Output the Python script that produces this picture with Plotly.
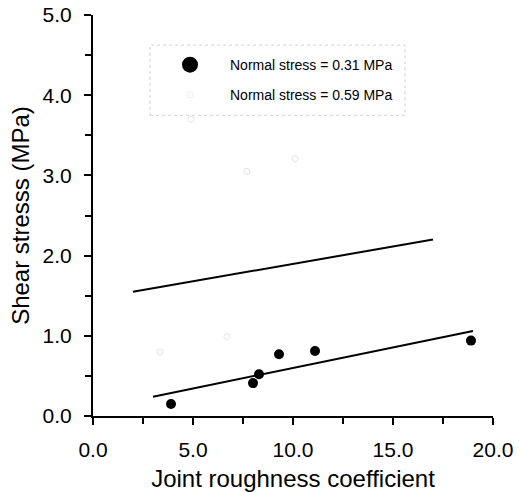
import plotly.graph_objects as go

# Normal stress = 0.31 MPa (filled markers)
jrc_031 = [3.9, 8.0, 8.3, 9.3, 11.1, 18.9]
tau_031 = [0.15, 0.41, 0.52, 0.77, 0.81, 0.94]
fit_031_x = [3.0, 19.0]
fit_031_y = [0.24, 1.06]

# Normal stress = 0.59 MPa (markers almost invisible in the scan)
jrc_059 = [3.35, 4.9, 6.7, 7.7, 10.1]
tau_059 = [0.80, 3.70, 0.99, 3.05, 3.21]
fit_059_x = [2.0, 17.0]
fit_059_y = [1.55, 2.20]

x_ticks = [0, 5, 10, 15, 20]
x_labels = ["0.0", "5.0", "10.0", "15.0", "20.0"]
y_ticks = [0, 1, 2, 3, 4, 5]
y_labels = ["0.0", "1.0", "2.0", "3.0", "4.0", "5.0"]

FONT = "Liberation Sans, Arial, sans-serif"

fig = go.Figure()

# data traces
fig.add_trace(go.Scatter(x=fit_031_x, y=fit_031_y, mode="lines",
                         line=dict(color="black", width=2), showlegend=False))
fig.add_trace(go.Scatter(x=fit_059_x, y=fit_059_y, mode="lines",
                         line=dict(color="black", width=2), showlegend=False))
fig.add_trace(go.Scatter(x=jrc_031, y=tau_031, mode="markers",
                         marker=dict(color="black", size=10), showlegend=False))
fig.add_trace(go.Scatter(x=jrc_059, y=tau_059, mode="markers",
                         marker=dict(symbol="circle-open", color="#e3e3e3", size=6,
                                     line=dict(width=1, color="#e3e3e3")),
                         showlegend=False))

# legend entries
fig.add_trace(go.Scatter(x=[None], y=[None], mode="markers",
                         marker=dict(color="black", size=17),
                         name="Normal stress = 0.31 MPa", legendgroup="a"))
fig.add_trace(go.Scatter(x=[None], y=[None], mode="markers",
                         marker=dict(symbol="circle-open", color="#ececec", size=6,
                                     line=dict(width=1, color="#ececec")),
                         name="Normal stress = 0.59 MPa", legendgroup="b"))

axis_common = dict(
    showgrid=False, zeroline=False, showline=True, linecolor="black", linewidth=2,
    ticks="outside", ticklen=7, tickwidth=2, tickcolor="black", automargin=False,
    tickfont=dict(family=FONT, size=21, color="black"),
    minor=dict(ticks="outside", ticklen=6, tickwidth=1.5, tickcolor="black"),
)

fig.update_xaxes(**axis_common, range=[0, 20], tickvals=x_ticks, ticktext=x_labels,
                 minor_dtick=2.5, minor_tick0=0, ticklabelstandoff=7,
                 title=dict(text="Joint roughness coefficient",
                            font=dict(family=FONT, size=24, color="black"), standoff=10))
fig.update_yaxes(**axis_common, range=[0, 5], tickvals=y_ticks, ticktext=y_labels,
                 minor_dtick=0.5, minor_tick0=0, ticklabelstandoff=8,
                 title=dict(text="Shear stresss (MPa)",
                            font=dict(family=FONT, size=24, color="black"), standoff=6))

fig.add_shape(type="rect", xref="paper", yref="paper",
              x0=0.1425, x1=0.78, y0=0.75, y1=0.925,
              line=dict(color="#d0d0d0", width=1, dash="dot"))

fig.update_layout(
    width=520, height=492,
    margin=dict(l=93, r=27, t=15, b=76),
    paper_bgcolor="white", plot_bgcolor="white",
    font=dict(family=FONT, color="black"),
    legend=dict(x=0.1425, y=0.915, xanchor="left", yanchor="top",
                bgcolor="rgba(0,0,0,0)", borderwidth=0,
                font=dict(family=FONT, size=14, color="black"),
                tracegroupgap=9, itemwidth=70),
)

fig.write_html("out.html")
